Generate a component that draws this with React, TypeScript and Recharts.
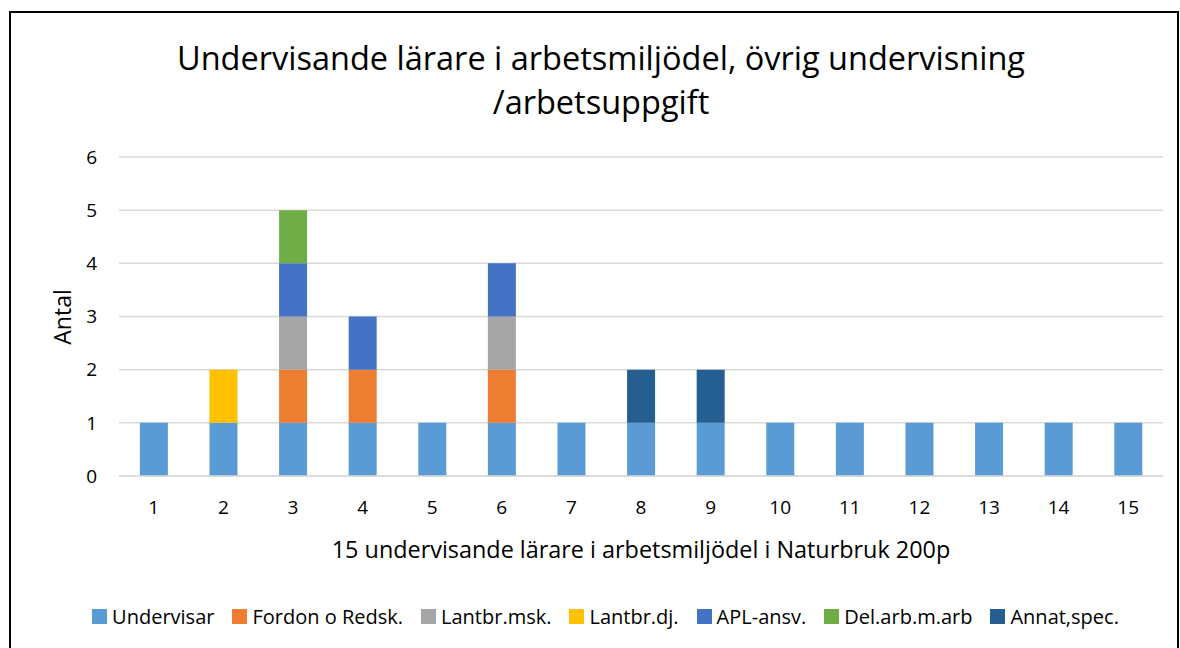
import { BarChart, Bar, XAxis, YAxis, CartesianGrid } from "recharts";

const categories = ["1", "2", "3", "4", "5", "6", "7", "8", "9", "10", "11", "12", "13", "14", "15"];

const undervisar = [1, 1, 1, 1, 1, 1, 1, 1, 1, 1, 1, 1, 1, 1, 1];
const fordon = [0, 0, 1, 1, 0, 1, 0, 0, 0, 0, 0, 0, 0, 0, 0];
const lantbrMsk = [0, 0, 1, 0, 0, 1, 0, 0, 0, 0, 0, 0, 0, 0, 0];
const lantbrDj = [0, 1, 0, 0, 0, 0, 0, 0, 0, 0, 0, 0, 0, 0, 0];
const aplAnsv = [0, 0, 1, 1, 0, 1, 0, 0, 0, 0, 0, 0, 0, 0, 0];
const delArb = [0, 0, 1, 0, 0, 0, 0, 0, 0, 0, 0, 0, 0, 0, 0];
const annat = [0, 0, 0, 0, 0, 0, 0, 1, 1, 0, 0, 0, 0, 0, 0];

const yTicks = [0, 1, 2, 3, 4, 5, 6];

const series = [
  { key: "u", name: "Undervisar", values: undervisar, color: "#5B9BD5" },
  { key: "f", name: "Fordon o Redsk.", values: fordon, color: "#ED7D31" },
  { key: "m", name: "Lantbr.msk.", values: lantbrMsk, color: "#A5A5A5" },
  { key: "d", name: "Lantbr.dj.", values: lantbrDj, color: "#FFC000" },
  { key: "a", name: "APL-ansv.", values: aplAnsv, color: "#4472C4" },
  { key: "g", name: "Del.arb.m.arb", values: delArb, color: "#70AD47" },
  { key: "s", name: "Annat,spec.", values: annat, color: "#255E91" }
];

const data = categories.map((c, i) => {
  const row: Record<string, string | number> = { cat: c };
  series.forEach((s) => {
    row[s.key] = s.values[i];
  });
  return row;
});

const font = "'Open Sans', sans-serif";

export default function App() {
  return (
    <div
      style={{
        position: "absolute",
        left: 0,
        top: 0,
        width: 1180,
        height: 648,
        overflow: "hidden",
        background: "#fff",
        fontFamily: font
      }}
    >
      <div
        style={{
          position: "absolute",
          left: 9,
          top: 11,
          width: 1166,
          height: 700,
          border: "2px solid #000"
        }}
      />

      <div
        style={{
          position: "absolute",
          left: 0,
          top: 36,
          width: 1202,
          textAlign: "center",
          fontSize: 32.5,
          lineHeight: "44px",
          color: "#000"
        }}
      >
        Undervisande lärare i arbetsmiljödel, övrig undervisning
        <br />
        /arbetsuppgift
      </div>

      <div
        style={{
          position: "absolute",
          left: 62,
          top: 317,
          transform: "translate(-50%, -50%) rotate(-90deg)",
          fontSize: 23,
          color: "#000",
          whiteSpace: "nowrap"
        }}
      >
        Antal
      </div>

      <div
        style={{
          position: "absolute",
          left: 0,
          top: 533,
          width: 1282,
          textAlign: "center",
          fontSize: 23.4,
          color: "#000",
          whiteSpace: "nowrap"
        }}
      >
        15 undervisande lärare i arbetsmiljödel i Naturbruk 200p
      </div>

      <div style={{ position: "absolute", left: 0, top: 0 }}>
        <BarChart
          width={1180}
          height={648}
          data={data}
          barCategoryGap="30%"
          margin={{ top: 157, right: 17, bottom: 132, left: 59 }}
        >
          <CartesianGrid vertical={false} stroke="#D9D9D9" strokeWidth={1.5} />
          <XAxis
            dataKey="cat"
            axisLine={{ stroke: "#D9D9D9", strokeWidth: 1.5 }}
            tickLine={false}
            height={40}
            tickMargin={19}
            tick={{ fill: "#000", fontSize: 19, fontFamily: font }}
          />
          <YAxis
            domain={[0, 6]}
            ticks={yTicks}
            axisLine={false}
            tickLine={false}
            width={60}
            tickMargin={16}
            tick={{ fill: "#000", fontSize: 19, fontFamily: font }}
          />
          {series.map((s) => (
            <Bar
              key={s.key}
              dataKey={s.key}
              name={s.name}
              stackId="a"
              fill={s.color}
              isAnimationActive={false}
            />
          ))}
        </BarChart>
      </div>

      <div
        style={{
          position: "absolute",
          left: 0,
          top: 603,
          width: 1229,
          display: "flex",
          justifyContent: "center",
          fontSize: 20,
          color: "#000",
          whiteSpace: "nowrap"
        }}
      >
        {series.map((s) => (
          <div key={s.key} style={{ display: "flex", alignItems: "center", marginRight: 18 }}>
            <span
              style={{
                display: "inline-block",
                width: 15,
                height: 15,
                background: s.color,
                marginRight: 5
              }}
            />
            {s.name}
          </div>
        ))}
      </div>
    </div>
  );
}
